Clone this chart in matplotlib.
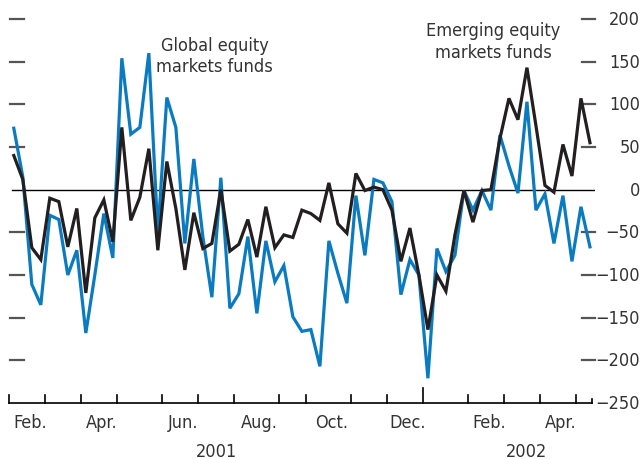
import numpy as np
import matplotlib
matplotlib.use("Agg")
import matplotlib.pyplot as plt
import matplotlib.transforms as mtransforms
from matplotlib import font_manager

# pick a narrow sans if one is installed
narrow = None
for f in font_manager.fontManager.ttflist:
    low = f.fname.lower()
    if ('narrow' in low or 'condensed' in low) and 'bold' not in low and 'italic' not in low \
            and 'oblique' not in low:
        if narrow is None or 'liberation' in low:
            narrow = f.fname
if narrow:
    fp = font_manager.FontProperties(fname=narrow, size=13)
else:
    fp = font_manager.FontProperties(family='DejaVu Sans', size=11.5)

# weekly net flows, Feb 2001 - Apr 2002
global_funds = [72, 15, -111, -135, -30, -35, -100, -71, -168, -100, -28, -80, 154,
                65, 73, 160, -51, 108, 73, -63, 36, -55, -126, 14, -139, -122, -55,
                -145, -60, -108, -89, -149, -166, -164, -207, -60, -98, -133, -7, -77, 12,
                8, -14, -123, -82, -100, -221, -69, -96, -77, -1, -24, -1, -24, 64,
                28, -4, 103, -24, -5, -63, -7, -84, -20, -67]
emerging_funds = [40, 12, -68, -82, -10, -14, -67, -22, -121, -33, -12, -61, 73,
                  -36, -9, 48, -71, 33, -22, -94, -27, -69, -63, 0, -72, -64, -35,
                  -79, -20, -68, -53, -56, -24, -28, -36, 8, -40, -51, 19, -1, 3,
                  0, -24, -84, -45, -100, -164, -100, -119, -53, -1, -38, -1, 0, 60,
                  107, 82, 143, 75, 5, -3, 53, 16, 107, 55]

weeks_per_month = [4, 4, 4, 5, 4, 4, 5, 3, 5, 4, 4, 5, 4, 4, 4]
month_labels = ['Feb.', 'Apr.', 'Jun.', 'Aug.', 'Oct.', 'Dec.', 'Feb.', 'Apr.']
year_labels = ['2001', '2002']
yticks = [200, 150, 100, 50, 0, -50, -100, -150, -200, -250]

x = np.arange(len(global_funds))
month_ticks = np.concatenate([[-0.5], -0.5 + np.cumsum(weeks_per_month)])
x_end = 64.2

fig = plt.figure(figsize=(6.42, 4.6), dpi=100)
ax = fig.add_axes([9.3 / 642, 56 / 460, 585.7 / 642, 384 / 460])
ax.set_xlim(-0.5, 64.56)
ax.set_ylim(-250, 200)
ax.axis('off')

blue = '#0a7bc1'
dark = '#231f20'
text_c = '#333333'

ax.axhline(0, xmin=0.004, xmax=1.0, color='black', lw=1.0, zorder=1)
ax.plot(x, global_funds, color=blue, lw=2.3, zorder=3, solid_joinstyle='miter')
ax.plot(x, emerging_funds, color=dark, lw=2.3, zorder=4, solid_joinstyle='miter')

# y tick marks on both sides, labels on the right
trans = mtransforms.blended_transform_factory(ax.transAxes, ax.transData)
for v in yticks:
    if v not in (0, -250):
        ax.plot([0.002, 0.025], [v, v], color='#555555', lw=1.6, transform=trans, clip_on=False)
        ax.plot([0.978, 1.0], [v, v], color='#555555', lw=1.6, transform=trans, clip_on=False)
    lab = str(v).replace('-', '\u2212')
    ax.text(1.0768, v, lab, transform=trans, ha='right', va='center',
            fontproperties=fp, color=text_c, clip_on=False)

# x axis
ax.plot([-0.5, x_end], [-250, -250], color='black', lw=1.2, clip_on=False)
for i, t in enumerate(month_ticks):
    h = 17.5 if i == 11 else 9.3
    ax.plot([t, t], [-250, -250 + h], color='black', lw=1.2, clip_on=False)
ax.plot([x_end, x_end], [-250, -245], color='black', lw=1.2, clip_on=False)

for k, lab in enumerate(month_labels):
    pos = (month_ticks[2 * k] + month_ticks[2 * k + 1]) / 2 + 0.3
    ax.text(pos, -272, lab, ha='center', va='center', fontproperties=fp, color=text_c, clip_on=False)
ax.text(22.5, -306, year_labels[0], ha='center', va='center', fontproperties=fp, color=text_c, clip_on=False)
ax.text(57.0, -306, year_labels[1], ha='center', va='center', fontproperties=fp, color=text_c, clip_on=False)

ax.text(22.3, 157, 'Global equity\nmarkets funds', ha='center', va='center',
        fontproperties=fp, color=text_c, linespacing=1.25)
ax.text(53.3, 174, 'Emerging equity\nmarkets funds', ha='center', va='center',
        fontproperties=fp, color=text_c, linespacing=1.25)

fig.savefig('out.png', dpi=100)
